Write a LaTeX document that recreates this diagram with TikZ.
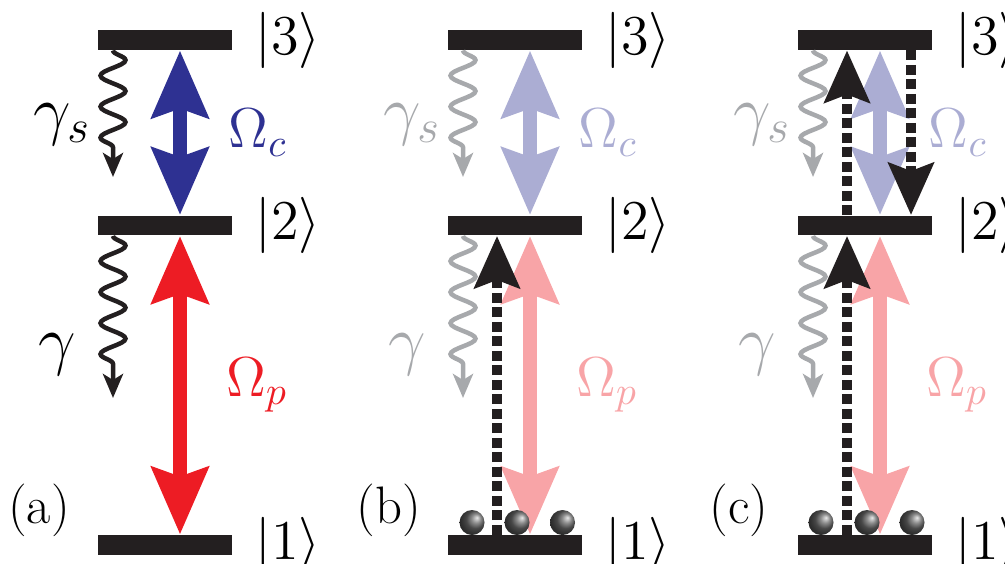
\RequirePackage{fix-cm}
\documentclass[tikz,border=0pt]{standalone}
\usepackage{amsmath}
\usetikzlibrary{arrows.meta,positioning,decorations.pathmorphing}
\definecolor{lineblack}{RGB}{35,31,32}
\definecolor{cplblue}{RGB}{46,49,146}
\definecolor{prbred}{RGB}{237,28,36}
\definecolor{decaygray}{RGB}{167,169,172}

\begin{document}
\begin{tikzpicture}[x=0.1mm, y=-0.1mm,
  level/.style={rectangle, fill=lineblack, minimum width=13.4mm, minimum height=1.95mm, inner sep=0pt},
  couple/.style={line width=1.4mm, {Stealth[length=6.7mm, width=5.6mm, inset=0.9mm]}-{Stealth[length=6.7mm, width=5.6mm, inset=0.9mm]}},
  decay/.style={draw=#1, line width=0.45mm, decorate, decoration={snake, segment length=3.1mm, amplitude=1.25mm, post length=2.6mm}, -{Stealth[length=2.4mm, width=2mm, inset=0.6mm]}},
  photon/.style={draw=lineblack, line width=1mm, dash pattern=on 1mm off 0.45mm, -{Stealth[length=5.2mm, width=4.5mm, inset=0.8mm]}},
  atom/.style={circle, inner sep=0pt, minimum size=2.5mm, shading=ball, ball color=black!60, shading angle=-90},
  ket/.style={font=\fontsize{16}{19}\selectfont, inner sep=0pt},
  lbl/.style={font=\fontsize{15}{18}\selectfont, inner sep=0pt},
  omg/.style={font=\fontsize{16}{19}\selectfont, inner sep=0pt},
  rate/.style={font=\fontsize{19}{22}\selectfont, inner sep=0pt}]
\useasboundingbox (0,0) rectangle (1005,563);

% (a) bare three-level system
\node[level] (a3) at (165,40) {};
\node[level] (a2) at (165,225.5) {};
\node[level] (a1) at (165,545) {};
\node[ket, right=2.2mm of a3] (ka3) {$|3\rangle$};
\node[ket, right=2.2mm of a2] (ka2) {$|2\rangle$};
\node[ket, right=2.2mm of a1] (ka1) {$|1\rangle$};
\draw[couple, cplblue] ([xshift=1.5mm]a3.south) -- ([xshift=1.5mm]a2.north);
\draw[couple, prbred] ([xshift=1.5mm]a2.south) -- ([xshift=1.5mm]a1.north);
\coordinate (as) at (113,177);
\coordinate (ag) at (113,398);
\draw[decay=lineblack] ([xshift=-5.2mm]a3.south) -- (as);
\draw[decay=lineblack] ([xshift=-5.2mm]a2.south) -- (ag);
\node[rate] (gsa) at (62,125) {$\gamma_s$};
\node[rate] (ga) at (57,355) {$\gamma$};
\node[omg, text=cplblue] (oca) at (258,133) {$\Omega_c$};
\node[omg, text=prbred] (opa) at (257,385) {$\Omega_p$};
\node[lbl] (la) at (39,510) {(a)};

% (b) atoms in |1>, probe photon absorbed
\node[level] (b3) at (515,40) {};
\node[level] (b2) at (515,225.5) {};
\node[level] (b1) at (515,545) {};
\node[ket, right=2.2mm of b3] (kb3) {$|3\rangle$};
\node[ket, right=2.2mm of b2] (kb2) {$|2\rangle$};
\node[ket, right=2.2mm of b1] (kb1) {$|1\rangle$};
\draw[couple, cplblue!40] ([xshift=1.5mm]b3.south) -- ([xshift=1.5mm]b2.north);
\draw[couple, prbred!40] ([xshift=1.5mm]b2.south) -- ([xshift=1.5mm]b1.north);
\coordinate (bs) at (463,177);
\coordinate (bg) at (463,398);
\draw[decay=decaygray] ([xshift=-5.2mm]b3.south) -- (bs);
\draw[decay=decaygray] ([xshift=-5.2mm]b2.south) -- (bg);
\draw[photon] ([xshift=-1.8mm]b1.north) -- ([xshift=-1.8mm]b2.south);
\node[atom] (ba1) at (472,522.5) {};
\node[atom] (ba2) at (517,522.5) {};
\node[atom] (ba3) at (562.5,522.5) {};
\node[rate, text=decaygray] (gsb) at (412,125) {$\gamma_s$};
\node[rate, text=decaygray] (gb) at (407,355) {$\gamma$};
\node[omg, text=cplblue!40] (ocb) at (608,133) {$\Omega_c$};
\node[omg, text=prbred!40] (opb) at (607,385) {$\Omega_p$};
\node[lbl] (lb) at (389,510) {(b)};

% (c) coupling on, photon passed up to |3> and back
\node[level] (c3) at (865,40) {};
\node[level] (c2) at (865,225.5) {};
\node[level] (c1) at (865,545) {};
\node[ket, right=2.2mm of c3] (kc3) {$|3\rangle$};
\node[ket, right=2.2mm of c2] (kc2) {$|2\rangle$};
\node[ket, right=2.2mm of c1] (kc1) {$|1\rangle$};
\draw[couple, cplblue!40] ([xshift=1.5mm]c3.south) -- ([xshift=1.5mm]c2.north);
\draw[couple, prbred!40] ([xshift=1.5mm]c2.south) -- ([xshift=1.5mm]c1.north);
\coordinate (cs) at (813,177);
\coordinate (cg) at (813,398);
\draw[decay=decaygray] ([xshift=-5.2mm]c3.south) -- (cs);
\draw[decay=decaygray] ([xshift=-5.2mm]c2.south) -- (cg);
\draw[photon] ([xshift=-1.8mm]c1.north) -- ([xshift=-1.8mm]c2.south);
\draw[photon] ([xshift=-1.8mm]c2.north) -- ([xshift=-1.8mm]c3.south);
\draw[photon] ([xshift=4.6mm]c3.south) -- ([xshift=4.6mm]c2.north);
\node[atom] (ca1) at (821,522.5) {};
\node[atom] (ca2) at (867,522.5) {};
\node[atom] (ca3) at (912,522.5) {};
\node[rate, text=decaygray] (gsc) at (762,125) {$\gamma_s$};
\node[rate, text=decaygray] (gc) at (757,355) {$\gamma$};
\node[omg, text=cplblue!40] (occ) at (958,133) {$\Omega_c$};
\node[omg, text=prbred!40] (opc) at (957,385) {$\Omega_p$};
\node[lbl] (lc) at (739,510) {(c)};
\end{tikzpicture}
\end{document}
